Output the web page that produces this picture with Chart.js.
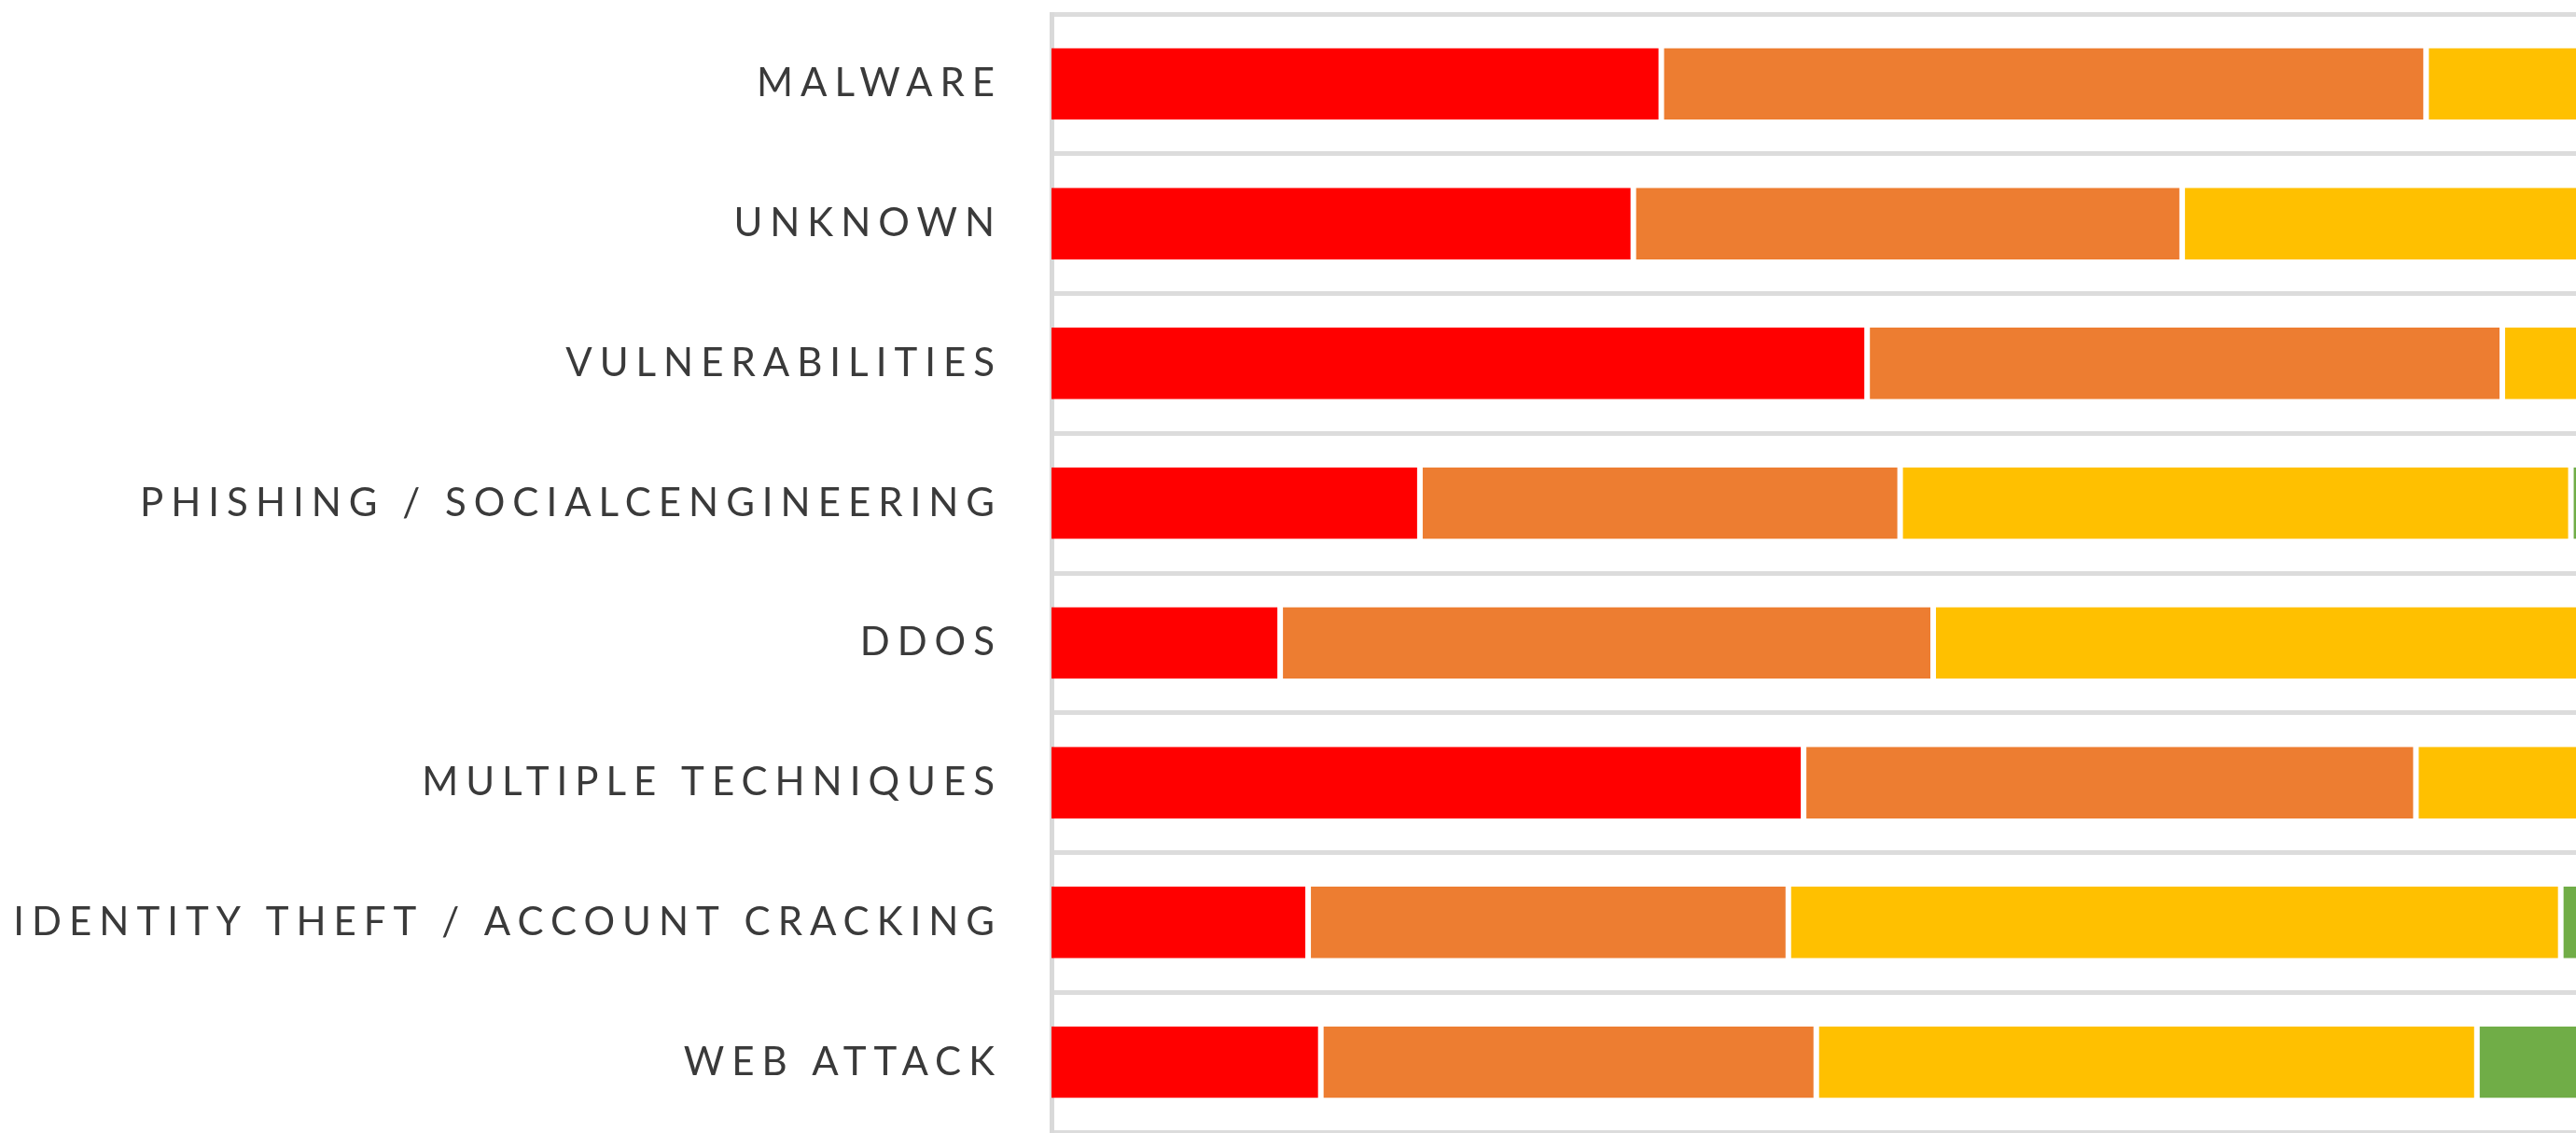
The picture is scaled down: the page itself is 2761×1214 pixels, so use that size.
<!DOCTYPE html>
<html>
<head>
<meta charset="utf-8">
<script src="https://cdn.jsdelivr.net/npm/chart.js@4"></script>
<style>
  html, body { margin: 0; padding: 0; background: #fff; overflow: hidden; }
  #wrap { width: 2761px; height: 1214px; position: relative; }
</style>
</head>
<body>
<div id="wrap"><canvas id="myChart"></canvas></div>
<script>
// categories, top to bottom
var categories = ['MALWARE', 'UNKNOWN', 'VULNERABILITIES', 'PHISHING / SOCIALCENGINEERING', 'DDOS',
    'MULTIPLE TECHNIQUES', 'IDENTITY THEFT / ACCOUNT CRACKING', 'WEB ATTACK'];

// share per severity (%); the chart is cut at the right edge
var critical = [24.0, 22.9, 32.1, 14.5, 9.0, 29.6, 10.1, 10.6];
var high     = [30.1, 21.6, 25.0, 18.9, 25.7, 24.1, 18.9, 19.5];
var medium   = [30.0, 40.0, 30.0, 26.4, 45.0, 35.0, 30.4, 26.0];
var low      = [15.9, 15.5, 12.9, 40.2, 20.3, 11.3, 40.6, 43.9];

var visibleMax = 60; // value at the right (cropped) edge

var LETTER_SPACING = '8px';

// canvas letter spacing for the tracked axis labels
var spacingPlugin = {
    id: 'spacing',
    beforeLayout: function (chart) { chart.ctx.letterSpacing = LETTER_SPACING; },
    beforeDraw: function (chart) { chart.ctx.letterSpacing = LETTER_SPACING; }
};

function segment(label, values, color, first) {
    return {
        label: label,
        data: values,
        backgroundColor: color,
        borderColor: '#ffffff',
        borderWidth: { left: first ? 0 : 3, right: 3, top: 0, bottom: 0 },
        borderSkipped: false,
        categoryPercentage: 0.8,
        barPercentage: 0.64
    };
}

var data = {
    labels: categories,
    datasets: [
        segment('Critical', critical, '#ff0000', true),
        segment('High', high, '#ed7d31', false),
        segment('Medium', medium, '#ffc000', false),
        segment('Low', low, '#70ad47', false)
    ]
};

var options = {
    indexAxis: 'y',
    responsive: true,
    maintainAspectRatio: false,
    animation: false,
    layout: { padding: { top: 15, bottom: 1, left: 0, right: 0 } },
    plugins: {
        legend: { display: false },
        tooltip: { enabled: false }
    },
    scales: {
        x: {
            stacked: true,
            display: false,
            min: 0,
            max: visibleMax
        },
        y: {
            stacked: true,
            afterFit: function (scale) {
                scale.width = 1127;
                scale.paddingTop = 0;
                scale.paddingBottom = 0;
            },
            border: { display: true, color: '#d9d9d9', width: 5 },
            grid: {
                color: '#dcdcdc',
                lineWidth: 5,
                drawTicks: false
            },
            ticks: {
                padding: 53,
                color: '#3a3a3a',
                font: {
                    size: 42,
                    family: "Lato, 'Liberation Sans', sans-serif"
                }
            }
        }
    }
};

var ctx = document.getElementById('myChart').getContext('2d');

var myChart = new Chart(ctx, {
    type: 'bar',
    data: data,
    options: options,
    plugins: [spacingPlugin]
});
</script>
</body>
</html>
